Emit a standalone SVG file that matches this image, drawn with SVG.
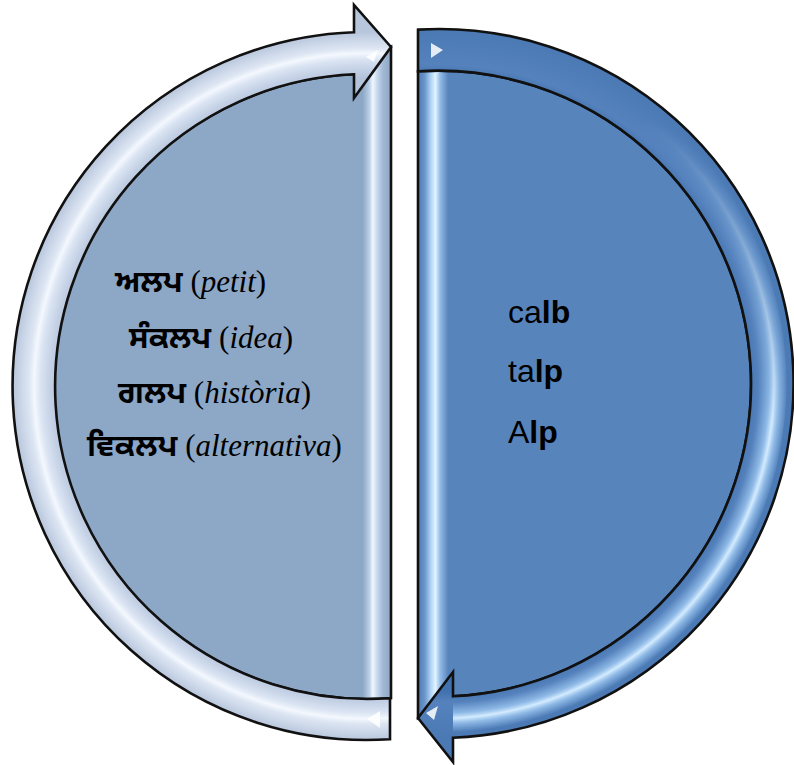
<svg xmlns="http://www.w3.org/2000/svg" width="794" height="765" viewBox="0 0 794 765">
<defs>
<style>
.edge{stroke:#111;stroke-width:2.6;stroke-linejoin:miter}
.lat{font-family:"Liberation Serif","Times New Roman",serif;font-size:31px;fill:#000}
.g{font-family:"Noto Sans Gurmukhi","Lohit Gurmukhi","Raavi","Liberation Sans",sans-serif;font-weight:bold}
.i{font-style:italic}
.ar{font-family:"Liberation Sans",Arial,sans-serif;font-size:32px;fill:#000}
.b{font-weight:bold}
.gloss{fill:#ffffff;opacity:0.85}
</style>
<linearGradient id="ldisk" gradientUnits="userSpaceOnUse" x1="12" y1="0" x2="391" y2="0">
<stop offset="0" stop-color="#8da7c6"/>
<stop offset="0.925" stop-color="#8da7c6"/>
<stop offset="0.942" stop-color="#b8cce4"/>
<stop offset="0.952" stop-color="#eef7ff"/>
<stop offset="0.965" stop-color="#c4d6ec"/>
<stop offset="0.978" stop-color="#a3b9d6"/>
<stop offset="1" stop-color="#8ea6c4"/>
</linearGradient>
<linearGradient id="rdisk" gradientUnits="userSpaceOnUse" x1="418" y1="0" x2="754" y2="0">
<stop offset="0" stop-color="#4f7bb4"/>
<stop offset="0.02" stop-color="#6b96cb"/>
<stop offset="0.038" stop-color="#add3f6"/>
<stop offset="0.052" stop-color="#e2f4ff"/>
<stop offset="0.066" stop-color="#92bbe6"/>
<stop offset="0.09" stop-color="#5884bc"/>
<stop offset="1" stop-color="#5884bc"/>
</linearGradient>
<radialGradient id="lband" gradientUnits="userSpaceOnUse" cx="367" cy="386" r="354">
<stop offset="0.87" stop-color="#b4c3da"/>
<stop offset="0.895" stop-color="#c4d1e5"/>
<stop offset="0.922" stop-color="#d9e3f2"/>
<stop offset="0.94" stop-color="#f4f8fe"/>
<stop offset="0.955" stop-color="#dce5f2"/>
<stop offset="0.98" stop-color="#c9d5e7"/>
<stop offset="1" stop-color="#b8c6dc"/>
</radialGradient>
<radialGradient id="rband" gradientUnits="userSpaceOnUse" cx="439" cy="383.5" r="354.5">
<stop offset="0.87" stop-color="#4272ae"/>
<stop offset="0.9" stop-color="#5582bd"/>
<stop offset="1" stop-color="#4a79b4"/>
</radialGradient>
<radialGradient id="rhi" gradientUnits="userSpaceOnUse" cx="439" cy="383.5" r="354.5">
<stop offset="0.9" stop-color="#9cc6f0" stop-opacity="0"/>
<stop offset="0.93" stop-color="#9cc6f0" stop-opacity="0.8"/>
<stop offset="0.945" stop-color="#d4ecff" stop-opacity="1"/>
<stop offset="0.96" stop-color="#9cc6f0" stop-opacity="0.8"/>
<stop offset="0.985" stop-color="#9cc6f0" stop-opacity="0"/>
</radialGradient>
<linearGradient id="rmaskg" gradientUnits="userSpaceOnUse" x1="0" y1="120" x2="0" y2="420">
<stop offset="0" stop-color="#fff" stop-opacity="0"/>
<stop offset="1" stop-color="#fff" stop-opacity="1"/>
</linearGradient>
<mask id="rmask" maskUnits="userSpaceOnUse" x="0" y="0" width="794" height="765">
<rect x="0" y="0" width="794" height="765" fill="url(#rmaskg)"/>
</mask>
</defs>
<rect x="0" y="0" width="794" height="765" fill="#ffffff"/>

<g id="node-left">
<path class="edge" fill="url(#ldisk)" d="M391,47 L391,698.1 A312.5,312.5 0 1 1 354,74.3 Z"/>
<text class="lat" x="115" y="292"><tspan class="g">ਅਲਪ</tspan> (<tspan class="i">petit</tspan>)</text>
<text class="lat" x="129" y="348"><tspan class="g">ਸੰਕਲਪ</tspan> (<tspan class="i">idea</tspan>)</text>
<text class="lat" x="118" y="403"><tspan class="g">ਗਲਪ</tspan> (<tspan class="i">història</tspan>)</text>
<text class="lat" x="87" y="456"><tspan class="g">ਵਿਕਲਪ</tspan> (<tspan class="i">alternativa</tspan>)</text>
</g>

<g id="node-right">
<path class="edge" fill="url(#rdisk)" d="M418,718 L418,71.3 A313,313 0 1 1 453,696.3 Z"/>
<text class="ar" x="508" y="323">ca<tspan class="b">lb</tspan></text>
<text class="ar" x="508" y="382">ta<tspan class="b">lp</tspan></text>
<text class="ar" x="508" y="443">A<tspan class="b">lp</tspan></text>
</g>

<g id="connectors">
<g id="arrow-left">
<path class="edge" fill="url(#lband)" d="M390,698.2 L390,739.2 A354,354 0 1 1 354,32.2 L354,5 L391,47 L354,98 L354,74.3 A312.5,312.5 0 1 0 390,698.2 Z"/>
<path class="gloss" d="M366,57 L378,50 L374,62 Z"/>
<path class="gloss" d="M367,719 L380,711 L380,728 Z"/>
</g>
<g id="arrow-right">
<path class="edge" fill="url(#rband)" d="M418,71.3 L418,29.6 A354.5,354.5 0 1 1 453,737.7 L453,762 L418,718 L453,672 L453,696.3 A313,313 0 1 0 418,71.3 Z"/>
<path fill="url(#rhi)" mask="url(#rmask)" d="M453,737.7 A354.5,354.5 0 0 0 418,29.6 L418,71.3 A313,313 0 0 1 453,696.3 Z"/>
<path class="gloss" opacity="0.7" d="M431,43 L443,50 L431,58 Z"/>
<path class="gloss" opacity="0.5" d="M426,713 L438,706 L434,720 Z"/>
</g>
</g>
</svg>
